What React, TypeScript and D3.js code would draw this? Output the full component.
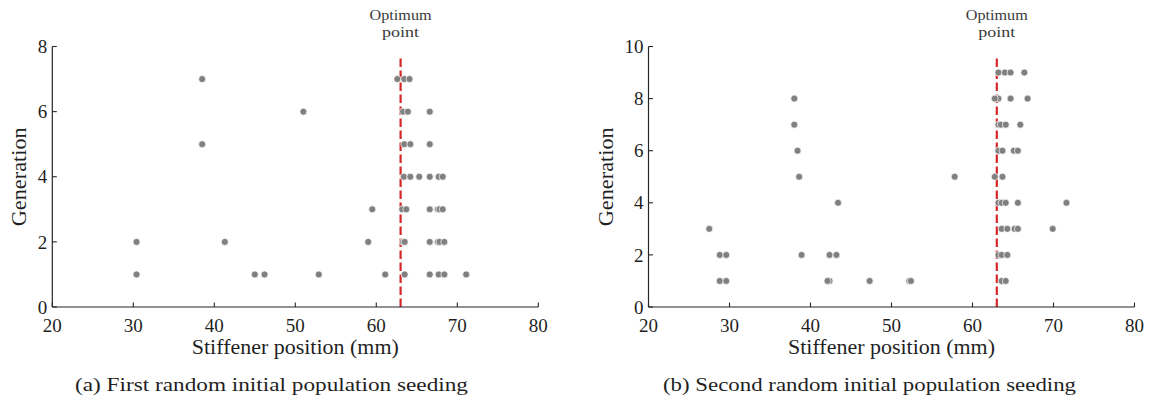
import React from "react";
import * as d3 from "d3";

// ---------- data ----------
const generationsA = [1, 2, 3, 4, 5, 6, 7];
const positionsA: number[][] = [
  [30.4, 45.0, 46.2, 52.9, 61.1, 63.5, 66.6, 67.7, 68.4, 71.1],
  [30.4, 41.3, 59.0, 63.3, 63.5, 66.6, 67.6, 67.8, 68.4],
  [59.5, 63.2, 63.7, 66.6, 67.6, 67.8, 68.2],
  [63.4, 64.2, 65.3, 66.6, 67.7, 68.2],
  [38.5, 63.45, 64.2, 66.6],
  [51.0, 63.3, 63.9, 66.6],
  [38.5, 62.6, 63.45, 64.1],
];

const generationsB = [1, 2, 3, 4, 5, 6, 7, 8, 9];
const positionsB: number[][] = [
  [28.8, 29.6, 42.35, 42.1, 47.3, 52.2, 52.4, 63.6, 64.1],
  [28.8, 29.6, 38.9, 42.35, 43.2, 63.2, 63.6, 64.3],
  [27.5, 63.6, 64.3, 65.2, 65.6, 69.9],
  [43.4, 63.2, 63.6, 64.1, 65.6, 71.6],
  [38.6, 57.8, 62.75, 63.7],
  [38.4, 63.2, 63.7, 65.1, 65.6],
  [38.0, 63.2, 63.5, 64.1, 65.9],
  [38.0, 63.2, 62.75, 64.7, 66.8],
  [63.2, 64.0, 64.7, 66.4],
];

const xDomain = [20, 80];
const xTicks = [20, 30, 40, 50, 60, 70, 80];
const yTicksA = [0, 2, 4, 6, 8];
const yTicksB = [0, 2, 4, 6, 8, 10];
const optimumX = 63;
const xLabel = "Stiffener position (mm)";
const yLabel = "Generation";
const optimumLabel = ["Optimum", "point"];
const captionA = "(a) First random initial population seeding";
const captionB = "(b) Second random initial population seeding";

// ---------- layout ----------
const FONT = "Liberation Serif, DejaVu Serif, serif";
const TEXT = "#1f1f1f";
const AXIS = "#262626";
const DOT = "#808080";
const RED = "#d62728";
const top = 46.5;
const bottom = 307;
const plotW = 486;

type PanelProps = {
  left: number;
  yTicks: number[];
  gens: number[];
  positions: number[][];
  caption: string;
  captionCenter: number;
  captionWidth: number;
  yLabelX: number;
};

function Panel(p: PanelProps) {
  const x = d3.scaleLinear().domain(xDomain).range([p.left, p.left + plotW]);
  const yMax = p.yTicks[p.yTicks.length - 1];
  const y = d3.scaleLinear().domain([0, yMax]).range([bottom, top]);
  const lineTop = yMax * 0.965;
  const cx = (p.left + p.left + plotW) / 2;
  const ox = x(optimumX);

  const pts: { px: number; py: number; key: string }[] = [];
  p.positions.forEach((row, i) =>
    row.forEach((v, j) =>
      pts.push({ px: x(v), py: y(p.gens[i]), key: `${i}-${j}` })
    )
  );

  return (
    <g>
      <line
        x1={ox}
        x2={ox}
        y1={y(0)}
        y2={y(lineTop)}
        stroke={RED}
        strokeWidth={2.2}
        strokeDasharray="8.5,3.5"
      />
      {pts.map((d) => (
        <circle
          key={d.key}
          cx={d.px}
          cy={d.py}
          r={3.5}
          fill={DOT}
          stroke="#ffffff"
          strokeWidth={0.7}
        />
      ))}
      <line x1={p.left} x2={p.left + plotW} y1={bottom} y2={bottom} stroke={AXIS} strokeWidth={1.2} />
      <line x1={p.left} x2={p.left} y1={top} y2={bottom} stroke={AXIS} strokeWidth={1.2} />
      {xTicks.map((t) => (
        <g key={"x" + t}>
          <line x1={x(t)} x2={x(t)} y1={bottom} y2={bottom - 4.5} stroke={AXIS} strokeWidth={1.1} />
          <text x={x(t)} y={332} textAnchor="middle" fontSize={19} fontFamily={FONT} fill={TEXT}>
            {t}
          </text>
        </g>
      ))}
      {p.yTicks.map((t) => (
        <g key={"y" + t}>
          <line x1={p.left} x2={p.left + 4.5} y1={y(t)} y2={y(t)} stroke={AXIS} strokeWidth={1.1} />
          <text
            x={p.left - 5}
            y={y(t)}
            dy="0.35em"
            textAnchor="end"
            fontSize={19}
            fontFamily={FONT}
            fill={TEXT}
          >
            {t}
          </text>
        </g>
      ))}
      <text
        x={cx}
        y={354}
        textAnchor="middle"
        fontSize={20}
        fontFamily={FONT}
        fill={TEXT}
        textLength={207}
        lengthAdjust="spacingAndGlyphs"
      >
        {xLabel}
      </text>
      <text
        transform={`translate(${p.yLabelX},${(top + bottom) / 2}) rotate(-90)`}
        textAnchor="middle"
        fontSize={20}
        fontFamily={FONT}
        fill={TEXT}
        textLength={99}
        lengthAdjust="spacingAndGlyphs"
      >
        {yLabel}
      </text>
      <text
        x={ox}
        y={20}
        textAnchor="middle"
        fontSize={15}
        fontFamily={FONT}
        fill="#3a3a3a"
        textLength={62}
        lengthAdjust="spacingAndGlyphs"
      >
        {optimumLabel[0]}
      </text>
      <text
        x={ox}
        y={37}
        textAnchor="middle"
        fontSize={15}
        fontFamily={FONT}
        fill="#3a3a3a"
        textLength={37}
        lengthAdjust="spacingAndGlyphs"
      >
        {optimumLabel[1]}
      </text>
      <text
        x={p.captionCenter}
        y={391}
        textAnchor="middle"
        fontSize={19.5}
        fontFamily={FONT}
        fill={TEXT}
        textLength={p.captionWidth}
        lengthAdjust="spacingAndGlyphs"
      >
        {p.caption}
      </text>
    </g>
  );
}

export default function App() {
  return (
    <svg
      width={1151}
      height={402}
      style={{ position: "absolute", left: 0, top: 0, background: "#ffffff" }}
    >
      <rect x={0} y={0} width={1151} height={402} fill="#ffffff" />
      <Panel
        left={52.3}
        yTicks={yTicksA}
        gens={generationsA}
        positions={positionsA}
        caption={captionA}
        captionCenter={271.5}
        captionWidth={393}
        yLabelX={26}
      />
      <Panel
        left={648.5}
        yTicks={yTicksB}
        gens={generationsB}
        positions={positionsB}
        caption={captionB}
        captionCenter={869.5}
        captionWidth={413}
        yLabelX={613}
      />
    </svg>
  );
}
